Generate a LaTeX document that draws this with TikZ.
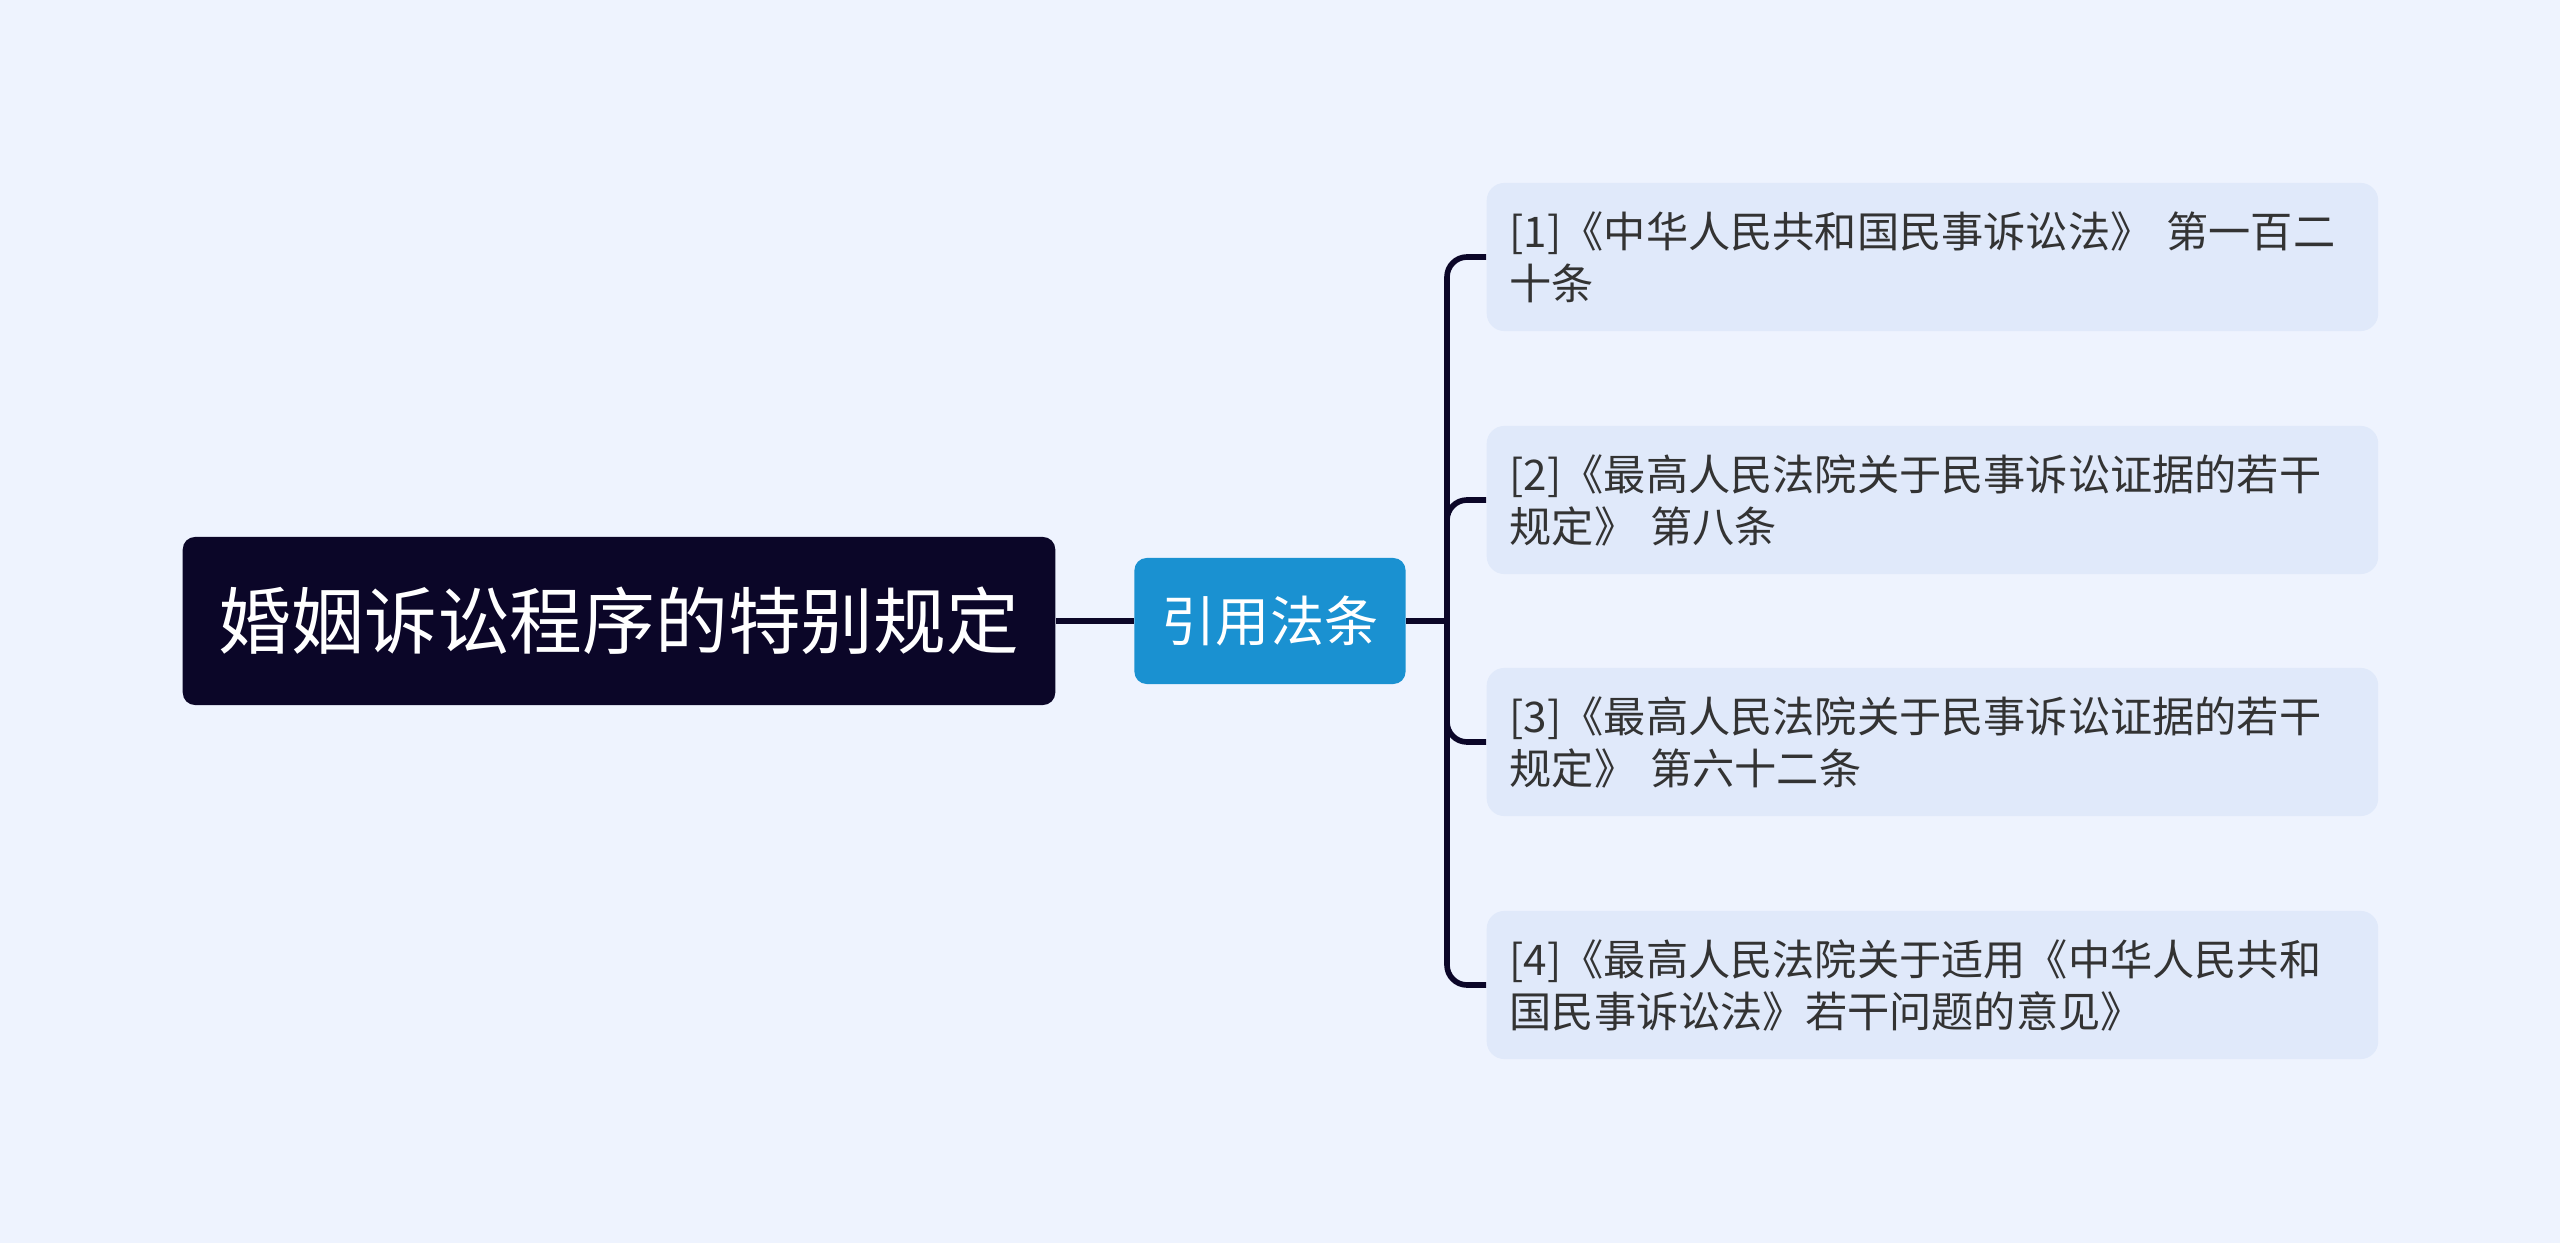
\documentclass[tikz,border=0pt]{standalone}
\usepackage{fontspec}
\newfontfamily\cjk{Noto Sans CJK SC}
\usetikzlibrary{positioning}
\definecolor{mapBg}{HTML}{EEF3FE}
\definecolor{mapInk}{HTML}{0B0628}
\definecolor{mapBlue}{HTML}{1A91D1}
\definecolor{mapLeaf}{HTML}{E0E9FA}
\definecolor{mapText}{HTML}{333333}
\tikzset{
  every picture/.style={font=\cjk},
  map root/.style={fill=mapInk, text=white, rounded corners=3.5pt,
    minimum width=8.72cm, minimum height=1.68cm, inner sep=0pt,
    font=\cjk\fontsize{20.7}{24}\selectfont},
  map topic/.style={fill=mapBlue, text=white, rounded corners=3.5pt,
    minimum width=2.71cm, minimum height=1.26cm, inner sep=0pt,
    font=\cjk\fontsize{15.4}{18}\selectfont},
  map leaf/.style={fill=mapLeaf, text=mapText, rounded corners=5pt,
    anchor=west, align=left, text width=8.45cm, inner xsep=0.23cm,
    minimum height=1.48cm, font=\cjk\fontsize{12}{14.8}\selectfont},
  map link/.style={draw=mapInk, line width=1.6pt},
  map branch/.style={map link, rounded corners=0.2cm}
}

\begin{document}
\begin{tikzpicture}[x=0.01cm,y=-0.01cm]
  \fill[mapBg] (0,0) rectangle (2560,1243);
  \useasboundingbox (0,0) rectangle (2560,1243);
  \node[map root] (root) at (619,621) {婚姻诉讼程序的特别规定};
  \node[map topic] (cite) at (1270,621) {引用法条};
  \coordinate (hub) at (1447,621);
  \node[map leaf] (law1) at (1486,257) {[1]《中华人民共和国民事诉讼法》 第一百二\\十条};
  \node[map leaf] (law2) at (1486,500) {[2]《最高人民法院关于民事诉讼证据的若干\\规定》 第八条};
  \node[map leaf] (law3) at (1486,742) {[3]《最高人民法院关于民事诉讼证据的若干\\规定》 第六十二条};
  \node[map leaf] (law4) at (1486,985) {[4]《最高人民法院关于适用《中华人民共和\\国民事诉讼法》若干问题的意见》};
  \draw[map link] (root.east) -- (cite.west);
  \draw[map link] (cite.east) -- (hub);
  \foreach \n in {law1,law2,law3,law4}
    \draw[map branch] (hub) |- (\n.west);
\end{tikzpicture}
\end{document}
